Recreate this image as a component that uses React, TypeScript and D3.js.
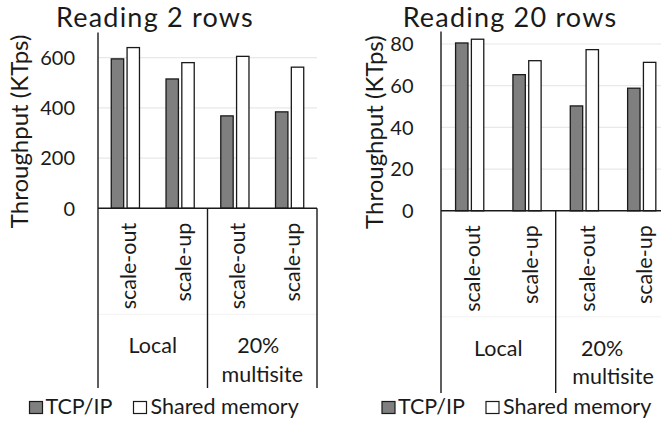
import React from "react";
import * as d3 from "d3";

// Workload categories on the x axis (two per placement group)
const categories = ["scale-out", "scale-up", "scale-out", "scale-up"];
const groupLines = [["Local"], ["20%", "multisite"]];

// Throughput in KTps, reading 2 rows
const tcp2Rows = [595, 515, 368, 384];
const shm2Rows = [640, 580, 605, 562];
const ticks2Rows = [0, 200, 400, 600];

// Throughput in KTps, reading 20 rows
const tcp20Rows = [80.5, 65.3, 50.3, 58.8];
const shm20Rows = [82.3, 72, 77.3, 71.2];
const ticks20Rows = [0, 20, 40, 60, 80];

const seriesNames = ["TCP/IP", "Shared memory"];
const seriesFill = ["#7f7f7f", "#ffffff"];

const FONT = "Lato, 'Open Sans', sans-serif";
const INK = "#1a1a1a";

type PanelProps = {
  title: string;
  titleX: number;
  tcp: number[];
  shm: number[];
  ticks: number[];
  yMax: number;
  x0: number;
  x1: number;
  yTop: number;
  yZero: number;
  tickRight: number;
  axisTitleX: number;
  labelBottom: number;
  legendX: number;
  group20Shift: number;
};

function Panel(p: PanelProps) {
  const y = d3.scaleLinear().domain([0, p.yMax]).range([p.yZero, p.yTop]);
  const band = d3
    .scaleBand<number>()
    .domain(d3.range(categories.length))
    .range([p.x0, p.x1])
    .padding(0);
  const barW = 12.4;
  const gap = 3.4;
  const sub = d3
    .scaleOrdinal<number, number>()
    .domain([0, 1])
    .range([-(gap / 2 + barW), gap / 2]);
  const groupW = (p.x1 - p.x0) / groupLines.length;
  const series = [p.tcp, p.shm];

  return (
    <g>
      <text
        x={p.titleX}
        y={27}
        textAnchor="middle"
        fontFamily={FONT}
        fontSize={27}
        letterSpacing={1.2}
        fill={INK}
      >
        {p.title}
      </text>

      {/* gridlines */}
      {p.ticks
        .filter((t) => t > 0)
        .map((t) => (
          <line
            key={"g" + t}
            x1={p.x0}
            x2={p.x1}
            y1={y(t)}
            y2={y(t)}
            stroke="#e8e8e8"
            strokeWidth={1.2}
          />
        ))}
      {/* faint separator between category levels */}
      <line
        x1={p.x0}
        x2={p.x1}
        y1={p.yZero + 106}
        y2={p.yZero + 106}
        stroke="#f2f2f2"
        strokeWidth={1}
      />

      {/* tick labels */}
      {p.ticks.map((t) => (
        <text
          key={"t" + t}
          x={p.tickRight}
          y={y(t)}
          dy="0.36em"
          textAnchor="end"
          fontFamily={FONT}
          fontSize={20}
          fill={INK}
        >
          {t}
        </text>
      ))}

      {/* axis title */}
      <text
        transform={`translate(${p.axisTitleX},${(p.yTop + p.yZero) / 2 + 11}) rotate(-90)`}
        textAnchor="middle"
        fontFamily={FONT}
        fontSize={24}
        fill={INK}
      >
        Throughput (KTps)
      </text>

      {/* bars */}
      {series.map((vals, si) =>
        vals.map((v, i) => {
          const cx = (band(i) as number) + band.bandwidth() / 2;
          return (
            <rect
              key={`b${si}-${i}`}
              x={cx + sub(si)}
              y={y(v)}
              width={barW}
              height={p.yZero - y(v)}
              fill={seriesFill[si]}
              stroke={INK}
              strokeWidth={1.3}
            />
          );
        })
      )}

      {/* axes */}
      <line x1={p.x0} x2={p.x0} y1={p.yTop} y2={p.labelBottom} stroke={INK} strokeWidth={1.4} />
      <line x1={p.x0} x2={p.x1} y1={p.yZero} y2={p.yZero} stroke={INK} strokeWidth={1.4} />
      {d3.range(1, groupLines.length + 1).map((gi) => (
        <line
          key={"d" + gi}
          x1={p.x0 + groupW * gi}
          x2={p.x0 + groupW * gi}
          y1={p.yZero}
          y2={p.labelBottom}
          stroke={INK}
          strokeWidth={1.4}
        />
      ))}

      {/* category labels */}
      {categories.map((c, i) => {
        const cx = (band(i) as number) + band.bandwidth() / 2;
        return (
          <text
            key={"c" + i}
            transform={`translate(${cx + 10.5},${p.yZero + 14.5}) rotate(-90)`}
            textAnchor="end"
            fontFamily={FONT}
            fontSize={21.5}
            fill={INK}
          >
            {c}
          </text>
        );
      })}

      {/* group labels */}
      {groupLines.map((lines, gi) => {
        const gx = p.x0 + groupW * (gi + 0.5);
        return lines.map((ln, li) => (
          <text
            key={`gl${gi}-${li}`}
            x={gx + (lines.length > 1 && li === 0 ? p.group20Shift : 0)}
            y={p.yZero + 145 + li * 28.5}
            textAnchor="middle"
            fontFamily={FONT}
            fontSize={21.5}
            fill={INK}
          >
            {ln}
          </text>
        ));
      })}

      {/* legend */}
      <g transform={`translate(${p.legendX},401.5)`}>
        <rect x={0} y={0} width={13} height={12} fill={seriesFill[0]} stroke={INK} strokeWidth={1.2} />
        <text x={16} y={12} fontFamily={FONT} fontSize={21.5} fill={INK}>
          {seriesNames[0]}
        </text>
        <rect x={104} y={0} width={13} height={12} fill={seriesFill[1]} stroke={INK} strokeWidth={1.2} />
        <text x={121} y={12} fontFamily={FONT} fontSize={21.5} fill={INK}>
          {seriesNames[1]}
        </text>
      </g>
    </g>
  );
}

export default function App() {
  return (
    <svg
      width={661}
      height={421}
      style={{ position: "absolute", left: 0, top: 0, background: "#fff" }}
    >
      <rect width={661} height={421} fill="#fff" />
      <Panel
        title="Reading 2 rows"
        titleX={155}
        tcp={tcp2Rows}
        shm={shm2Rows}
        ticks={ticks2Rows}
        yMax={700}
        x0={98}
        x1={317}
        yTop={32.5}
        yZero={208.3}
        tickRight={75}
        axisTitleX={28}
        labelBottom={388}
        legendX={29.5}
        group20Shift={-4}
      />
      <Panel
        title="Reading 20 rows"
        titleX={510}
        tcp={tcp20Rows}
        shm={shm20Rows}
        ticks={ticks20Rows}
        yMax={86}
        x0={441}
        x1={670.4}
        yTop={31.5}
        yZero={210.8}
        tickRight={413.5}
        axisTitleX={383}
        labelBottom={393}
        legendX={382}
        group20Shift={-11}
      />
    </svg>
  );
}
